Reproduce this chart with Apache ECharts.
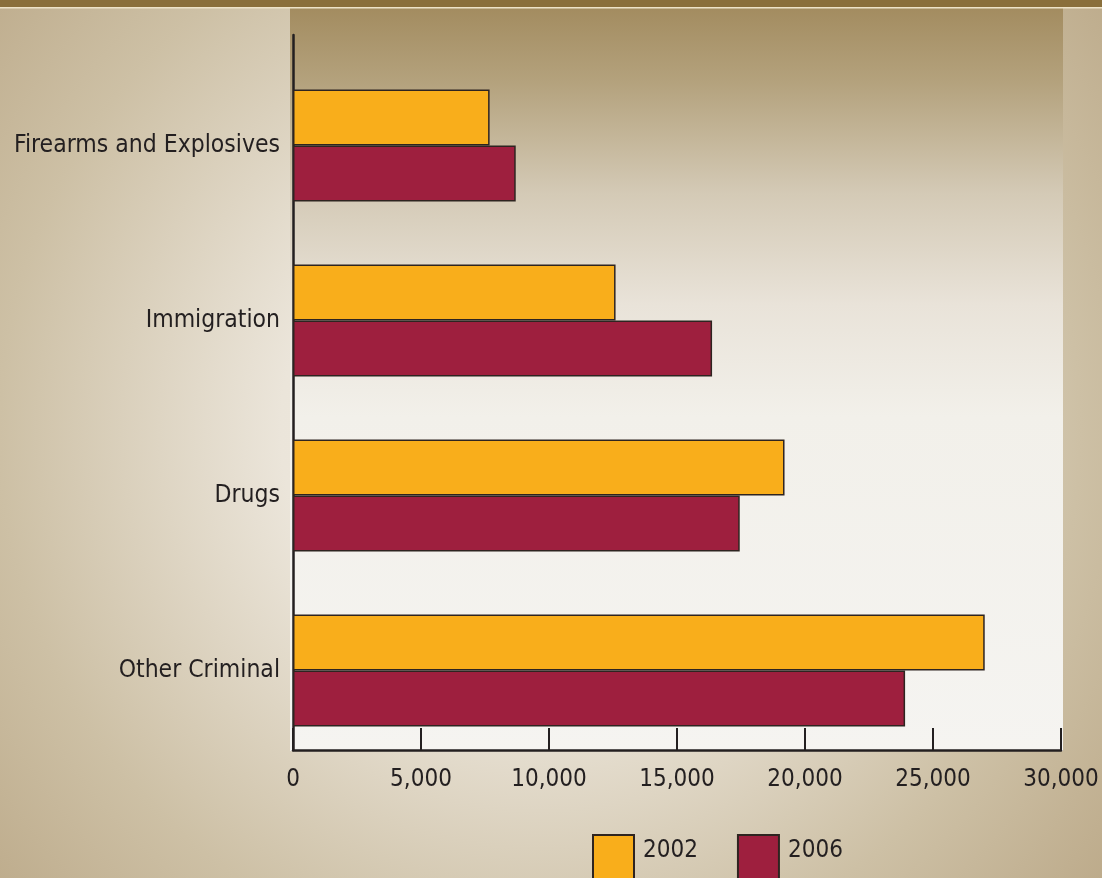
<!DOCTYPE html>
<html>
<head>
<meta charset="utf-8">
<script src="https://cdn.jsdelivr.net/npm/echarts@6/dist/echarts.min.js"></script>
<style>
html,body{margin:0;padding:0;background:#d8ccb6;}
#chart{width:1102px;height:878px;}
</style>
</head>
<body>
<div id="chart"></div>
<script>
const categories = ['Firearms and Explosives', 'Immigration', 'Drugs', 'Other Criminal'];
const seriesNames = ['2002', '2006'];
const values2002 = [7680, 12600, 19200, 27020];
const values2006 = [8700, 16370, 17450, 23910];
const xTicks = [0, 5000, 10000, 15000, 20000, 25000, 30000];

const FONT = '"Liberation Sans Narrow", "DejaVu Sans Condensed", "Arial Narrow", sans-serif';
const TEXT = '#231f20';
const W = 1102, H = 878;

const chart = echarts.init(document.getElementById('chart'), null, {renderer: 'canvas'});

const fmt = v => v.toLocaleString('en-US');

chart.setOption({
  animation: false,
  graphic: [
    {type: 'rect', z: -20, silent: true, shape: {x: 0, y: 0, width: W, height: H},
     style: {fill: {type: 'radial', x: 540, y: 430, r: 720, global: true,
       colorStops: [{offset: 0, color: '#f2eee6'}, {offset: 0.36, color: '#ebe5da'}, {offset: 0.75, color: '#cdc0a5'}, {offset: 1, color: '#bdab8b'}]}}},
    {type: 'rect', z: -19, silent: true, shape: {x: 290, y: 8, width: 773, height: 743},
     style: {fill: {type: 'linear', x: 0, y: 0, x2: 0, y2: 1,
       colorStops: [{offset: 0, color: '#a38c60'}, {offset: 0.1, color: '#b4a27d'}, {offset: 0.25, color: '#d4cab6'}, {offset: 0.4, color: '#e9e3d9'}, {offset: 0.55, color: '#f2f0ea'}, {offset: 1, color: '#f5f4f1'}]}}},
    {type: 'rect', z: -18, silent: true, shape: {x: 0, y: 0, width: W, height: 7}, style: {fill: '#8a6f3b'}},
    {type: 'rect', z: -18, silent: true, shape: {x: 0, y: 7, width: W, height: 1.5}, style: {fill: '#eee3c8'}}
  ],
  grid: [
    {left: 293, right: 41, top: 58, height: 700, containLabel: false, outerBoundsMode: 'none'},
    {left: 293, right: 41, top: 35, bottom: 128, containLabel: false, outerBoundsMode: 'none'}
  ],
  xAxis: [
    {gridIndex: 0, type: 'value', min: 0, max: 30000, interval: 5000, show: false},
    {gridIndex: 1, type: 'value', min: xTicks[0], max: xTicks[xTicks.length - 1], interval: 5000,
     axisLine: {show: true, lineStyle: {color: '#231f20', width: 2.5}},
     axisTick: {show: true, inside: true, length: 22, lineStyle: {color: '#231f20', width: 2}},
     splitLine: {show: false},
     axisLabel: {show: true, margin: 18, fontFamily: FONT, fontSize: 24, color: TEXT, formatter: fmt}}
  ],
  yAxis: [
    {gridIndex: 0, type: 'category', data: categories, inverse: true,
     axisLine: {show: false}, axisTick: {show: false}, splitLine: {show: false},
     axisLabel: {margin: 13, fontFamily: FONT, fontSize: 24.5, color: TEXT}},
    {gridIndex: 1, type: 'value', min: 0, max: 1,
     axisLine: {show: true, lineStyle: {color: '#231f20', width: 2.5}},
     axisTick: {show: false}, axisLabel: {show: false}, splitLine: {show: false}}
  ],
  legend: {
    data: seriesNames,
    left: 592, top: 834, padding: 0,
    itemWidth: 41, itemHeight: 48, itemGap: 39,
    icon: 'rect',
    formatter: name => '{a|' + name + '}',
    textStyle: {fontFamily: FONT, fontSize: 24, color: TEXT,
      rich: {a: {fontFamily: FONT, fontSize: 24, color: TEXT, padding: [0, 0, 16, 4]}}}
  },
  series: [
    {name: seriesNames[0], type: 'bar', xAxisIndex: 0, yAxisIndex: 0, data: values2002,
     barWidth: 56, barGap: '0%',
     itemStyle: {color: '#f9ae1b', borderColor: '#2e2420', borderWidth: 1.5}},
    {name: seriesNames[1], type: 'bar', xAxisIndex: 0, yAxisIndex: 0, data: values2006,
     barWidth: 56, barGap: '0%',
     itemStyle: {color: '#9e1f3e', borderColor: '#2e2420', borderWidth: 1.5}}
  ]
});
</script>
</body>
</html>
